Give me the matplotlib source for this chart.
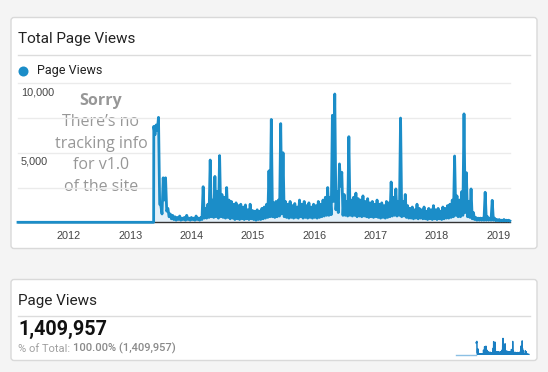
import numpy as np
import matplotlib
matplotlib.use('Agg')
import matplotlib.pyplot as plt
import matplotlib.dates as mdates
from matplotlib.patches import FancyBboxPatch

# --- data ---
# nothing was tracked before the new site went live
prelaunch_dates = ['2011-03-03', '2013-05-19']
prelaunch_views = [0, 0]

# from launch on: one sample a week, alternating busy week-days / quiet days
series_start = '2013-05-20'
high_k = [6.9, 7.0, 7.55, 1.2, 3.2, 3.2, 1.0, 0.6, 0.5, 0.4,
          0.35, 0.45, 0.3, 0.35, 0.5, 0.3, 0.35, 0.3, 0.45, 0.3,
          0.35, 2.56, 1.0, 1.3, 4.48, 1.6, 3.3, 2.2, 4.8, 2.0,
          1.8, 2.5, 1.6, 1.5, 1.3, 1.4, 1.2, 1.3, 1.1, 1.25,
          0.9, 1.3, 0.85, 0.8, 0.9, 0.8, 1.0, 1.1, 1.3, 3.7,
          7.4, 1.4, 1.5, 1.6, 7.1, 5.0, 1.5, 1.3, 1.5, 1.2,
          1.35, 1.1, 1.6, 1.3, 1.5, 1.2, 1.4, 1.1, 1.3, 1.2,
          1.5, 1.3, 1.6, 1.8, 2.5, 1.8, 7.7, 9.23, 2.2, 4.2,
          3.6, 2.0, 1.5, 6.16, 1.6, 1.8, 2.1, 1.7, 1.6, 1.9,
          1.5, 1.7, 1.4, 1.5, 1.3, 1.6, 1.3, 1.4, 1.2, 1.5,
          1.4, 2.9, 1.8, 2.4, 1.5, 7.5, 1.5, 2.0, 1.2, 1.0,
          1.1, 0.9, 1.3, 1.0, 0.9, 1.1, 0.8, 1.0, 0.9, 1.2,
          0.9, 1.0, 0.8, 1.1, 1.0, 1.2, 1.3, 1.6, 4.77, 1.9,
          1.6, 2.2, 7.8, 3.57, 1.5, 2.4, 0.7, 0.35, 0.3, 0.3,
          0.3, 2.16, 0.4, 0.3, 1.58, 0.3, 0.2, 0.2, 0.15, 0.2,
          0.15, 0.15]
low_k = [6.3, 6.6, 1.3, 0.6, 1.6, 0.8, 0.4, 0.25, 0.2, 0.15,
         0.2, 0.15, 0.2, 0.15, 0.2, 0.15, 0.2, 0.15, 0.2, 0.15,
         0.2, 0.3, 0.3, 0.35, 0.4, 0.35, 0.4, 0.3, 0.4, 0.35,
         0.3, 0.35, 0.25, 0.3, 0.2, 0.25, 0.2, 0.25, 0.2, 0.25,
         0.2, 0.25, 0.2, 0.15, 0.2, 0.2, 0.25, 0.3, 0.35, 0.4,
         0.4, 0.35, 0.4, 0.45, 0.6, 0.4, 0.35, 0.3, 0.35, 0.3,
         0.35, 0.3, 0.4, 0.3, 0.35, 0.3, 0.35, 0.3, 0.35, 0.3,
         0.35, 0.4, 0.45, 0.5, 0.5, 0.55, 1.5, 0.9, 0.7, 2.6,
         0.5, 0.5, 0.45, 0.5, 0.45, 0.5, 0.4, 0.45, 0.4, 0.45,
         0.4, 0.35, 0.4, 0.35, 0.4, 0.35, 0.3, 0.35, 0.3, 0.35,
         0.4, 0.45, 0.5, 0.45, 0.5, 0.4, 0.45, 0.35, 0.3, 0.3,
         0.25, 0.3, 0.25, 0.3, 0.25, 0.25, 0.2, 0.25, 0.2, 0.25,
         0.2, 0.25, 0.2, 0.25, 0.3, 0.3, 0.35, 0.4, 0.5, 0.4,
         0.4, 0.5, 0.7, 0.4, 0.35, 0.25, 0.2, 0.15, 0.15, 0.15,
         0.15, 0.15, 0.15, 0.15, 0.15, 0.12, 0.12, 0.1, 0.1, 0.1,
         0.1, 0.1]

x_range = ['2011-03-03', '2019-03-12']
grid_values = [2500, 5000, 7500, 10000]
label_values = [5000, 10000]
note_lines = ['There\u2019s no', 'tracking info', 'for v1.0', 'of the site']
total_views = 1409957

W, H = 548, 372
BLUE = '#1b8dc8'

# build the plotted series
n = len(high_k)
weekly = np.empty(2 * n)
weekly[0::2] = np.array(high_k) * 1000
weekly[1::2] = np.array(low_k) * 1000
weekly_dates = np.datetime64(series_start) + np.arange(2 * n) * np.timedelta64(7, 'D')
pre_dates = np.array(prelaunch_dates, dtype='datetime64[D]')
dates = np.concatenate([pre_dates, weekly_dates])
views = np.concatenate([prelaunch_views, weekly])
xlim = [np.datetime64(d) for d in x_range]

fig = plt.figure(figsize=(W / 100, H / 100), dpi=100, facecolor='#f4f4f4')

# background layer in pixel units for the two cards
bg = fig.add_axes([0, 0, 1, 1])
bg.set_xlim(0, W)
bg.set_ylim(H, 0)
bg.axis('off')
for top, bottom in [(17.5, 248.5), (279.5, 360.5)]:
    bg.add_patch(FancyBboxPatch((11, top), 526, bottom - top,
                                boxstyle='round,pad=0,rounding_size=3',
                                fc='white', ec='#d9d9d9', lw=1))
for y in [54.5, 316]:
    bg.plot([18, 530], [y, y], color='#dcdcdc', lw=1)

bg.text(18, 39, 'Total Page Views', fontsize=11, family='Roboto', color='#222222', va='center')
bg.scatter([22.5], [70.5], s=52, color=BLUE, lw=0)
bg.text(37, 70.5, 'Page Views', fontsize=9, family='Roboto', color='#222222', va='center')

bg.text(101, 101, 'Sorry', fontsize=11.5, family='Open Sans', weight='bold', color='#979797',
        ha='center', va='center')
for k, line in enumerate(note_lines):
    bg.text(101, 122 + 21.6 * k, line, fontsize=11.5, family='Open Sans', color='#979797',
            ha='center', va='center')

bg.text(18, 301, 'Page Views', fontsize=11, family='Roboto', color='#222222', va='center')
bg.text(18, 329.5, f'{total_views:,}', fontsize=14.2, family='Roboto', weight='bold',
        color='#111111', va='center')
t = bg.text(18, 348.5, '% of Total: ', fontsize=8, family='Roboto', color='#a0a0a0', va='center')
bg.annotate(f'100.00% ({total_views:,})', xycoords=t, xy=(1, 0.5), va='center',
            fontsize=8, family='Roboto', weight='medium', color='#8a8a8a')

# main chart
ax = fig.add_axes([18 / W, 1 - 222.3 / H, (510 - 18) / W, (222.3 - 83.3) / H])
ax.patch.set_alpha(0)
ax.fill_between(dates, views, color='#e3f0f9', lw=0, zorder=1)
ax.plot(dates, views, color=BLUE, lw=2.0, zorder=3, clip_on=False)
ax.set_xlim(xlim)
ax.set_ylim(0, 10000)
for v in grid_values:
    ax.axhline(v, color='#ebebeb', lw=1, zorder=0, clip_on=False)
for v in label_values:
    ax.annotate(f'{v:,}', xy=(0, v), xycoords=('axes fraction', 'data'),
                xytext=(3, -9), textcoords='offset pixels', va='center',
                fontsize=7.8, family='Liberation Sans', color='#444444')
for s in ['top', 'left', 'right']:
    ax.spines[s].set_visible(False)
ax.spines['bottom'].set_color('#333333')
ax.spines['bottom'].set_linewidth(1)
ax.spines['bottom'].set_zorder(2.5)
ax.set_yticks([])
ax.xaxis.set_major_locator(mdates.YearLocator())
ax.xaxis.set_major_formatter(mdates.DateFormatter('%Y'))
ax.tick_params(axis='x', length=0, pad=6, labelsize=7.8, labelcolor='#444444')
for lab in ax.get_xticklabels():
    lab.set_family('Liberation Sans')

# sparkline in the summary card
sp = fig.add_axes([456 / W, 1 - 354.5 / H, 73 / W, 16.5 / H])
sp.plot(pre_dates, prelaunch_views, color='#8cc0e4', lw=1, clip_on=False)
sp.fill_between(weekly_dates, weekly, color='#1a7fc2', lw=0)
sp.plot(weekly_dates, weekly, color='#1a7fc2', lw=0.9, clip_on=False)
sp.set_xlim(xlim)
sp.set_ylim(0, 9400)
sp.axis('off')

fig.savefig('out.png', dpi=100, facecolor=fig.get_facecolor())
